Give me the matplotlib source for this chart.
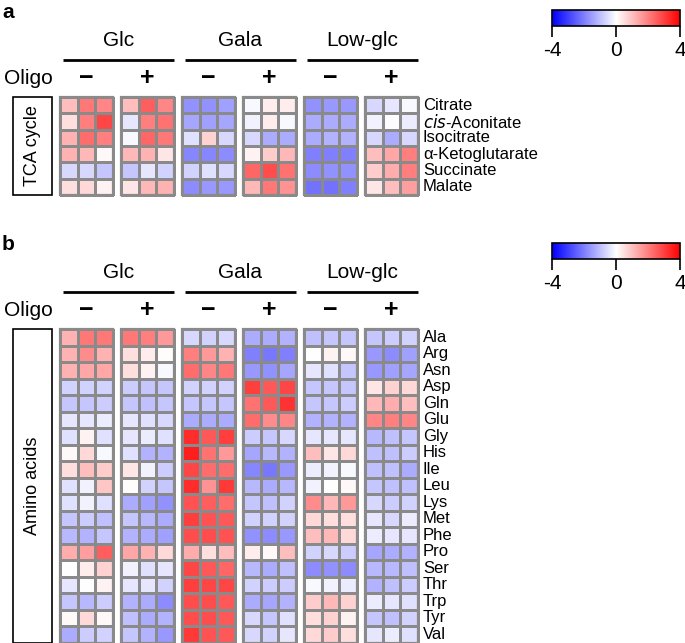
import matplotlib
matplotlib.use("Agg")
import matplotlib.pyplot as plt
import numpy as np
from matplotlib.patches import Rectangle

plt.rcParams['font.family'] = ['Liberation Sans', 'DejaVu Sans']
plt.rcParams['axes.unicode_minus'] = False

conditions = ['Glc', 'Gala', 'Low-glc']
oligo = ['\u2212', '+']

tca_rows = ['Citrate', '$\\it{cis}$-Aconitate', 'Isocitrate', '\u03b1-Ketoglutarate', 'Succinate', 'Malate']
# columns: Glc- (3), Glc+ (3), Gala- (3), Gala+ (3), Low-glc- (3), Low-glc+ (3)
tca_values = [
    [1.0, 2.1, 1.9,   1.0, 2.5, 1.9,   -1.7, -1.7, -1.5,  -0.1, 0.3, 0.3,   -1.7, -1.6, -1.6,  -0.6, -0.4, -0.1],
    [0.5, 2.0, 2.9,  -0.4, 2.0, 2.2,   -1.4, -1.5, -1.4,  -0.2, 0.3, -0.1,  -1.3, -1.3, -1.3,  -0.2, -0.05, -0.3],
    [1.2, 2.3, 2.0,  -0.1, 2.4, 2.1,   -0.5, 0.7, -0.6,   -0.6, -1.3, -1.3, -1.3, -1.2, -1.2,  -0.6, -1.3, -0.6],
    [1.2, 1.1, 0.1,   1.1, 1.2, 0.4,   -1.9, -1.9, -1.8,   0.2, 0.8, 1.1,   -2.0, -2.0, -2.0,   1.0, 1.4, 2.0],
    [-0.6, -0.6, -0.9, -0.9, -0.4, -0.7, -0.7, -0.5, -0.6, 2.4, 2.8, 2.2,   -1.8, -1.7, -1.7,   0.8, 1.3, 2.0],
    [0.5, 0.6, 0.2,   0.4, 1.1, 1.2,   -1.8, -1.6, -1.6,   1.1, 2.1, 1.7,   -2.2, -2.2, -2.0,   0.4, 1.0, 1.5],
]

aa_rows = ['Ala', 'Arg', 'Asn', 'Asp', 'Gln', 'Glu', 'Gly', 'His', 'Ile', 'Leu',
           'Lys', 'Met', 'Phe', 'Pro', 'Ser', 'Thr', 'Trp', 'Tyr', 'Val']
aa_values = [
    [1.2, 2.1, 2.1,    2.1, 2.0, 1.6,    -0.6, -0.7, -0.6,  -1.3, -1.3, -1.2,  -1.0, -0.9, -0.9,  -0.9, -0.8, -0.7],
    [1.2, 1.8, 1.2,    0.5, 0.3, 0.05,    2.0, 1.6, 1.2,    -2.0, -2.1, -2.0,   0.0, 0.2, 0.1,   -1.6, -1.8, -1.5],
    [1.2, 1.4, 1.4,    0.5, 0.2, -0.1,    2.3, 1.9, 2.1,    -1.6, -1.7, -1.4,  -0.4, -0.5, -0.9,  -1.6, -1.5, -1.4],
    [-0.7, -0.7, -0.7, -0.8, -0.9, -0.9,  -0.7, -0.7, -0.7,   3.0, 2.6, 2.9,   -0.9, -0.9, -0.9,   0.4, 0.7, 0.6],
    [-0.9, -0.9, -0.8, -0.9, -1.0, -0.9,  -0.9, -0.9, -0.9,   2.2, 2.6, 3.2,   -0.9, -0.9, -0.8,   1.1, 1.3, 1.0],
    [-0.4, -0.4, -0.3, -0.4, -0.5, -0.6,  -1.3, -1.3, -1.3,   2.3, 1.8, 1.9,   -1.2, -1.2, -1.2,   1.9, 2.0, 1.9],
    [-0.5, 0.2, -0.5,  -0.4, -0.3, -0.5,   3.3, 2.6, 3.0,    -0.8, -0.9, -0.6,  -0.4, -0.4, -0.4,  -1.1, -1.0, -0.9],
    [0.1, 0.6, -0.1,   -0.5, -1.2, -1.2,   3.5, 2.2, 1.6,    -1.4, -1.1, -1.2,   1.0, 0.4, 0.6,   -1.0, -1.0, -0.8],
    [0.5, 1.0, 0.8,     0.4, -0.2, -0.8,   2.9, 2.3, 2.3,    -1.9, -2.1, -1.6,  -0.3, -0.2, -0.1,  -1.0, -1.0, -1.3],
    [-0.5, -0.2, 0.9,   0.05, -0.7, -0.9,  3.3, 1.7, 3.1,    -1.1, -1.3, -1.1,  -0.2, 0.0, 0.1,   -0.9, -1.0, -1.0],
    [-0.5, -0.2, -0.5, -1.3, -1.5, -1.7,   2.7, 2.5, 2.3,    -0.9, -1.0, -0.7,   1.8, 1.1, 1.6,   -0.6, -0.8, -0.7],
    [-0.9, -0.8, -1.0, -0.9, -1.1, -1.3,   3.0, 2.7, 2.6,    -0.7, -0.7, -0.7,   0.6, 0.5, 0.5,   -0.4, -0.6, -0.3],
    [-1.1, -1.2, -0.9, -1.2, -1.3, -1.5,   2.8, 2.8, 2.7,    -1.7, -1.8, -1.6,   1.0, 1.1, 0.6,   -0.3, -0.4, -0.4],
    [1.3, 1.5, 2.5,     1.4, 1.2, 0.6,     1.3, 0.5, 1.0,     0.3, 0.1, 1.0,    -0.7, -0.6, -0.8,  -1.4, -1.3, -1.2],
    [0.0, 0.3, 0.7,    -0.2, -0.5, -0.4,   2.9, 2.6, 2.4,    -1.1, -1.3, -1.0,  -1.8, -1.7, -1.8,  -1.1, -1.1, -1.0],
    [-0.4, 0.0, 0.2,   -0.4, -0.4, -0.7,   3.0, 2.9, 2.9,    -0.7, -0.8, -0.8,  -0.1, -0.2, -0.3,  -1.2, -1.0, -0.8],
    [-0.9, -1.1, -0.8, -1.2, -1.3, -1.8,   2.8, 2.8, 2.6,    -1.3, -1.4, -1.2,   0.8, 1.1, 0.7,   -0.3, -0.4, -0.5],
    [0.1, 0.6, 0.1,    -1.0, -1.3, -1.2,   2.8, 2.8, 2.6,    -0.6, -0.9, -0.5,   0.5, 0.7, 0.2,   -0.9, -1.0, -0.7],
    [-1.3, -0.8, -0.7, -0.9, -1.2, -1.6,   3.1, 2.7, 2.6,    -0.6, -0.7, -0.4,   0.6, 0.8, 0.5,   -0.4, -0.3, -0.5],
]

W, H = 685, 643
fig = plt.figure(figsize=(W / 100, H / 100), dpi=100)
ax = fig.add_axes([0, 0, 1, 1])
ax.set_xlim(0, W)
ax.set_ylim(H, 0)
ax.axis('off')

cmap = plt.get_cmap('bwr')
norm = plt.Normalize(-4, 4)
grid = '#8a8a8a'

group_x = [60, 121, 182, 243, 304, 365]
group_w = 53


def draw_panel(top, rowh, rows, values, side, letter, cbar_top):
    vals = np.array(values)
    n = len(rows)
    bottom = top + rowh * n
    ax.text(2, top - 85, letter, fontsize=15, fontweight='bold', va='center', ha='left')
    for gi, cond in enumerate(conditions):
        x0 = group_x[2 * gi] + 3
        x1 = group_x[2 * gi + 1] + group_w
        ax.text((x0 + x1) / 2, top - 57, cond, fontsize=15, ha='center', va='center')
        ax.plot([x0, x1], [top - 37, top - 37], color='black', lw=2, solid_capstyle='butt')
    ax.text(4, top - 19, 'Oligo', fontsize=15, ha='left', va='center')
    for g in range(6):
        xs = np.linspace(group_x[g], group_x[g] + group_w, 4)
        ys = top + rowh * np.arange(n + 1)
        ax.pcolormesh(xs, ys, vals[:, 3 * g:3 * g + 3], cmap=cmap, norm=norm,
                      edgecolors=grid, linewidth=1.0)
        ax.add_patch(Rectangle((group_x[g], top), group_w, rowh * n, fill=False,
                               ec=grid, lw=1.6))
        ax.text(group_x[g] + group_w / 2, top - 19, oligo[g % 2], fontsize=18,
                fontweight='bold', ha='center', va='center')
    for i, r in enumerate(rows):
        ax.text(423, top + rowh * (i + 0.5), r, fontsize=12, ha='left', va='center')
    ax.add_patch(Rectangle((13, top), 39, bottom - top, fill=False, ec='black', lw=1.2))
    ax.text(32.5, (top + bottom) / 2, side, fontsize=13, rotation=90, ha='center', va='center')

    cax = fig.add_axes([552 / W, 1 - (cbar_top + 16) / H, 128 / W, 16 / H])
    sm = plt.cm.ScalarMappable(norm=norm, cmap=cmap)
    cb = fig.colorbar(sm, cax=cax, orientation='horizontal', ticks=[-4, 0, 4])
    cb.outline.set_linewidth(1.2)
    cax.tick_params(labelsize=15, length=8, width=1.2, pad=3)


draw_panel(97, 16.35, tca_rows, tca_values, 'TCA cycle', 'a', 10)
draw_panel(329, 16.5, aa_rows, aa_values, 'Amino acids', 'b', 243)

fig.savefig('out.png', dpi=100)
